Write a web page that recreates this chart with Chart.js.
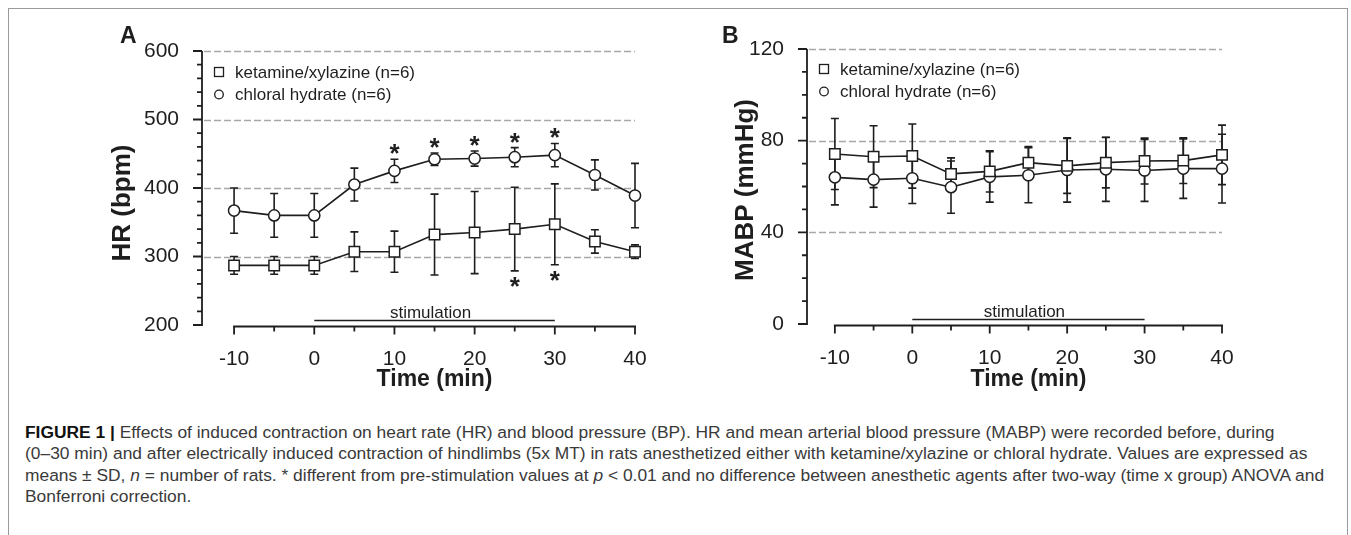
<!DOCTYPE html>
<html>
<head>
<meta charset="utf-8">
<script src="https://cdn.jsdelivr.net/npm/chart.js@4.4.1/dist/chart.umd.min.js"></script>
<style>
  html, body { margin: 0; padding: 0; background: #fff; }
  body { width: 1351px; height: 535px; position: relative; overflow: hidden; font-family: "Liberation Sans", Arial, sans-serif; }
  .frame { position: absolute; left: 8px; top: 8px; width: 1338px; height: 600px; border: 1px solid #9a9a9a; }
  canvas { position: absolute; top: 0; }
  #panelA { left: 0; }
  #panelB { left: 690px; }
  .caption { position: absolute; left: 25px; top: 422px; font-size: 17.4px; line-height: 21.4px; color: #3a3a3a; white-space: nowrap; }
  .caption b { color: #111; }
</style>
</head>
<body>
<div class="frame"></div>
<canvas id="panelA" width="690" height="400"></canvas>
<canvas id="panelB" width="661" height="400"></canvas>
<div class="caption">
<b>FIGURE 1 |</b> Effects of induced contraction on heart rate (HR) and blood pressure (BP). HR and mean arterial blood pressure (MABP) were recorded before, during<br>
(0–30 min) and after electrically induced contraction of hindlimbs (5x MT) in rats anesthetized either with ketamine/xylazine or chloral hydrate. Values are expressed as<br>
means ± SD, <i>n</i> = number of rats. * different from pre-stimulation values at <i>p</i> &lt; 0.01 and no difference between anesthetic agents after two-way (time x group) ANOVA and<br>
Bonferroni correction.
</div>
<script>
// time points (min)
const times = [-10, -5, 0, 5, 10, 15, 20, 25, 30, 35, 40];
const xTicks = [-10, 0, 10, 20, 30, 40];
const seriesNames = ["ketamine/xylazine (n=6)", "chloral hydrate (n=6)"];

// panel A: HR (bpm), mean and SD
const hrKetMean = [287, 287, 287, 307, 307, 332, 335, 340, 347, 322, 307];
const hrKetSd = [13, 13, 13, 29, 30, 59, 60, 61, 59, 17, 10];
const hrChlMean = [367, 360, 360, 405, 425, 442, 443, 445, 448, 419, 389];
const hrChlSd = [33, 32, 32, 24, 17, 9, 11, 14, 17, 22, 47];
const hrStarsKet = [25, 30];
const hrStarsChl = [10, 15, 20, 25, 30];
const hrTicks = [200, 300, 400, 500, 600];

// panel B: MABP (mmHg), mean and SD
const mabpKetMean = [74.2, 73, 73.3, 65.5, 66.6, 70.4, 69, 70.4, 71.1, 71.3, 73.8];
const mabpKetSd = [15.5, 13.5, 14, 7, 9, 7, 12, 11, 10, 10, 13];
const mabpChlMean = [64, 63, 63.6, 59.7, 64.2, 64.9, 67.2, 67.5, 67, 67.8, 67.8];
const mabpChlSd = [12, 12, 11, 11.4, 11, 12, 14, 14, 13.5, 13, 15];
const mabpTicks = [0, 40, 80, 120];

// stimulation period
const stimStart = 0;
const stimEnd = 30;

const ink = "#1e1e1e";
const fontFamily = "'Liberation Sans', Arial, sans-serif";

const panelPlugin = {
  id: "panel",
  beforeDatasetsDraw(chart) {
    const p = chart.options.plugins.panel;
    const ctx = chart.ctx;
    const xs = chart.scales.x, ys = chart.scales.y;
    ctx.save();
    // dashed grid lines
    ctx.strokeStyle = "#a8a8a8";
    ctx.lineWidth = 1.3;
    ctx.setLineDash([7, 3]);
    p.yTicks.slice(1).forEach((v) => {
      const y = Math.round(ys.getPixelForValue(v)) + 0.5;
      ctx.beginPath();
      ctx.moveTo(xs.left + 2, y);
      ctx.lineTo(xs.getPixelForValue(40), y);
      ctx.stroke();
    });
    ctx.setLineDash([]);
    // error bars
    ctx.strokeStyle = ink;
    ctx.lineWidth = 1.6;
    [p.ketSd, p.chlSd].forEach((sd, di) => {
      const means = chart.data.datasets[di].data;
      means.forEach((pt, i) => {
        const x = xs.getPixelForValue(pt.x);
        const yTop = ys.getPixelForValue(pt.y + sd[i]);
        const yBot = ys.getPixelForValue(pt.y - sd[i]);
        ctx.beginPath();
        ctx.moveTo(x, yTop); ctx.lineTo(x, yBot);
        ctx.moveTo(x - 4, yTop); ctx.lineTo(x + 4, yTop);
        ctx.moveTo(x - 4, yBot); ctx.lineTo(x + 4, yBot);
        ctx.stroke();
      });
    });
    ctx.restore();
  },
  afterDraw(chart) {
    const p = chart.options.plugins.panel;
    const ctx = chart.ctx;
    const xs = chart.scales.x, ys = chart.scales.y;
    const area = chart.chartArea;
    ctx.save();
    ctx.strokeStyle = ink;
    ctx.fillStyle = ink;
    ctx.lineWidth = 1.8;
    // y axis with major and minor ticks
    const ax = area.left;
    ctx.beginPath();
    ctx.moveTo(ax, ys.getPixelForValue(ys.max));
    ctx.lineTo(ax, ys.getPixelForValue(ys.min) + 1);
    for (let v = ys.min; v <= ys.max + 1e-9; v += p.yMinor) {
      const y = ys.getPixelForValue(v);
      const major = p.yTicks.includes(v);
      ctx.moveTo(ax, y);
      ctx.lineTo(ax - (major ? 9 : 5), y);
    }
    ctx.stroke();
    // x axis from -10 to 40 with ticks every 5 min
    const ay = area.bottom + 1.5;
    ctx.beginPath();
    ctx.moveTo(xs.getPixelForValue(times[0]) - 1, ay);
    ctx.lineTo(xs.getPixelForValue(times[times.length - 1]) + 1, ay);
    times.forEach((t) => {
      const x = xs.getPixelForValue(t);
      ctx.moveTo(x, ay);
      ctx.lineTo(x, ay + (xTicks.includes(t) ? 8 : 5));
    });
    ctx.stroke();
    // stimulation bar
    const sy = area.bottom - 4.5;
    ctx.lineWidth = 1.5;
    ctx.beginPath();
    ctx.moveTo(xs.getPixelForValue(stimStart), sy);
    ctx.lineTo(xs.getPixelForValue(stimEnd), sy);
    ctx.stroke();
    ctx.font = "17px " + fontFamily;
    ctx.textAlign = "center";
    ctx.textBaseline = "alphabetic";
    ctx.fillText("stimulation", xs.getPixelForValue((stimStart + stimEnd) / 2) - 4, sy - 3);
    // asterisks
    ctx.font = "bold 26px " + fontFamily;
    const meanAt = (di, t) => chart.data.datasets[di].data.find((d) => d.x === t).y;
    p.starsChl.forEach((t) => {
      const i = times.indexOf(t);
      const top = ys.getPixelForValue(meanAt(1, t) + p.chlSd[i]);
      ctx.fillText("*", xs.getPixelForValue(t), top - 12 + 15);
    });
    p.starsKet.forEach((t) => {
      const i = times.indexOf(t);
      const bot = ys.getPixelForValue(meanAt(0, t) - p.ketSd[i]);
      ctx.fillText("*", xs.getPixelForValue(t), bot + 9 + 15);
    });
    // axis titles
    ctx.font = "bold 23px " + fontFamily;
    ctx.textBaseline = "middle";
    ctx.fillText("Time (min)", xs.getPixelForValue(15), 380);
    ctx.save();
    ctx.translate(p.yTitleX, p.yTitleY);
    ctx.rotate(-Math.PI / 2);
    ctx.font = "bold 26px " + fontFamily;
    ctx.fillText(p.yTitle, 0, 0);
    ctx.restore();
    // panel letter
    ctx.font = "bold 23px " + fontFamily;
    ctx.textAlign = "left";
    ctx.textBaseline = "alphabetic";
    ctx.fillText(p.letter, p.letterX, 43);
    // legend
    ctx.font = "17px " + fontFamily;
    ctx.textBaseline = "middle";
    ctx.lineWidth = 1.3;
    const lx = p.legendX, ly = p.legendY;
    ctx.strokeRect(lx - 4.5, ly - 4.5, 9, 9);
    ctx.beginPath();
    ctx.arc(lx, ly + 22.5, 4.3, 0, Math.PI * 2);
    ctx.stroke();
    ctx.fillText(seriesNames[0], lx + 16, ly + 1);
    ctx.fillText(seriesNames[1], lx + 16, ly + 23.5);
    ctx.restore();
  }
};

function makePanel(id, cfg) {
  const pts = (arr) => times.map((t, i) => ({ x: t, y: arr[i] }));
  const common = {
    borderColor: ink, backgroundColor: "#fff", borderWidth: 1.6,
    pointBackgroundColor: "#fff", pointBorderColor: ink, pointBorderWidth: 1.5,
    tension: 0, clip: false
  };
  new Chart(document.getElementById(id), {
    type: "line",
    data: {
      datasets: [
        { ...common, label: seriesNames[0], data: pts(cfg.ketMean), pointStyle: "rect", pointRadius: 7.4 },
        { ...common, label: seriesNames[1], data: pts(cfg.chlMean), pointStyle: "circle", pointRadius: 5.6 }
      ]
    },
    options: {
      responsive: false,
      devicePixelRatio: 1,
      animation: false,
      events: [],
      layout: { padding: { left: 0, right: cfg.padRight, top: cfg.padTop, bottom: 0 } },
      plugins: {
        legend: { display: false },
        tooltip: { enabled: false },
        panel: {
          ketSd: cfg.ketSd, chlSd: cfg.chlSd, starsKet: cfg.starsKet, starsChl: cfg.starsChl,
          yTicks: cfg.yTicks, yMinor: cfg.yMinor, yTitle: cfg.yTitle, yTitleX: cfg.yTitleX, yTitleY: cfg.yTitleY,
          letter: cfg.letter, letterX: cfg.letterX, legendX: cfg.legendX, legendY: cfg.legendY
        }
      },
      scales: {
        x: {
          type: "linear", min: cfg.xMin, max: 40,
          afterBuildTicks: (s) => { s.ticks = xTicks.map((v) => ({ value: v })); },
          afterFit: (s) => { s.height = cfg.xAxisH; },
          grid: { display: false }, border: { display: false },
          ticks: { color: ink, font: { size: 21, family: fontFamily }, padding: 14, maxRotation: 0, autoSkip: false }
        },
        y: {
          min: cfg.yTicks[0], max: cfg.yTicks[cfg.yTicks.length - 1],
          afterBuildTicks: (s) => { s.ticks = cfg.yTicks.map((v) => ({ value: v })); },
          afterFit: (s) => { s.width = cfg.yAxisW; },
          grid: { display: false }, border: { display: false },
          ticks: { color: ink, font: { size: 21, family: fontFamily }, padding: 15 }
        }
      }
    },
    plugins: [panelPlugin]
  });
}

makePanel("panelA", {
  ketMean: hrKetMean, ketSd: hrKetSd, chlMean: hrChlMean, chlSd: hrChlSd,
  starsKet: hrStarsKet, starsChl: hrStarsChl, yTicks: hrTicks, yMinor: 20,
  yTitle: "HR (bpm)", yTitleX: 123, yTitleY: 203, letter: "A", letterX: 120,
  legendX: 219, legendY: 72,
  xMin: -14, padRight: 55, padTop: 51, xAxisH: 75, yAxisW: 202
});

makePanel("panelB", {
  ketMean: mabpKetMean, ketSd: mabpKetSd, chlMean: mabpChlMean, chlSd: mabpChlSd,
  starsKet: [], starsChl: [], yTicks: mabpTicks, yMinor: 10,
  yTitle: "MABP (mmHg)", yTitleX: 56, yTitleY: 190, letter: "B", letterX: 32,
  legendX: 134, legendY: 69,
  xMin: -13.6, padRight: 129, padTop: 49, xAxisH: 76, yAxisW: 117
});
</script>
</body>
</html>
